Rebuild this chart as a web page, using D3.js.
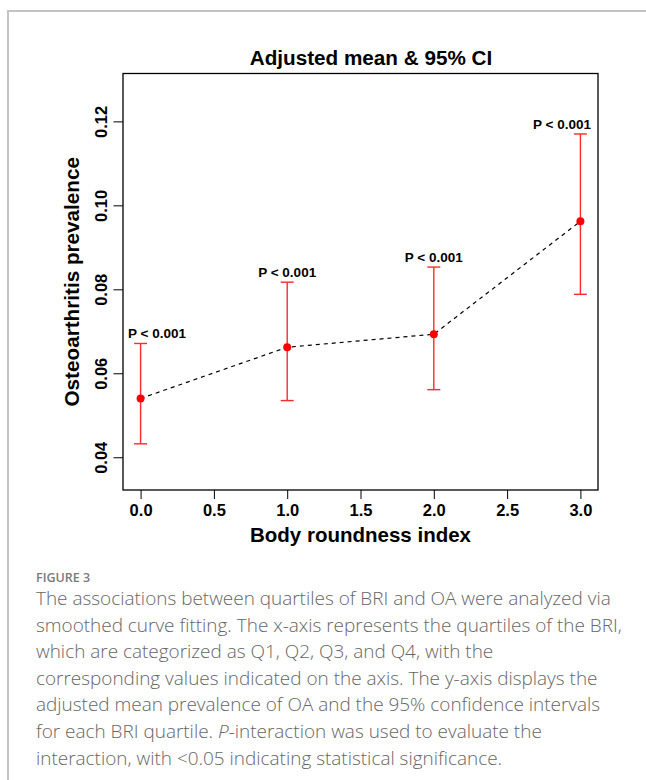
<!DOCTYPE html>
<html>
<head>
<meta charset="utf-8">
<script src="https://cdn.jsdelivr.net/npm/d3@7"></script>
<style>
  body { margin: 0; background: #fff; }
  svg { display: block; }
</style>
</head>
<body>
<script>
// BRI quartiles, adjusted mean OA prevalence and 95% CI
const quartiles = [0, 1, 2, 3]
const meanPrev = [0.0540, 0.0662, 0.0693, 0.0962]
const lowerCI = [0.0432, 0.0535, 0.0561, 0.0788]
const upperCI = [0.0671, 0.0817, 0.0853, 0.1170]
const pLabels = ["P < 0.001", "P < 0.001", "P < 0.001", "P < 0.001"]

const xTicks = [0, 0.5, 1, 1.5, 2, 2.5, 3]
const yTicks = [0.04, 0.06, 0.08, 0.10, 0.12]

const captionHead = "FIGURE 3"
const captionLines = [
  ["The associations between quartiles of BRI and OA were analyzed via"],
  ["smoothed curve fitting. The x-axis represents the quartiles of the BRI,"],
  ["which are categorized as Q1, Q2, Q3, and Q4, with the"],
  ["corresponding values indicated on the axis. The y-axis displays the"],
  ["adjusted mean prevalence of OA and the 95% confidence intervals"],
  ["for each BRI quartile. ", "P", "-interaction was used to evaluate the"],
  ["interaction, with <0.05 indicating statistical significance."]
]

const W = 646, H = 780
const box = { left: 123, right: 598, top: 73.5, bottom: 490 }
const font = "'Liberation Sans', Arial, Helvetica, sans-serif"

const svg = d3.select("body").append("svg")
  .attr("width", W)
  .attr("height", H)

// page frame
svg.append("path")
  .attr("d", `M${W},11H8V${H}`)
  .attr("fill", "none")
  .attr("stroke", "#c4c4c4")
  .attr("stroke-width", 2)

const x = d3.scaleLinear().domain([-0.12, 3.12]).range([box.left, box.right])
const y = d3.scaleLinear().domain([0.0322, 0.1314]).range([box.bottom, box.top])

const data = quartiles.map((q, i) => ({
  q: q, m: meanPrev[i], lo: lowerCI[i], hi: upperCI[i], label: pLabels[i]
}))

// axes
const xAxis = svg.append("g")
  .attr("transform", `translate(0,${box.bottom})`)
  .call(d3.axisBottom(x).tickValues(xTicks).tickFormat(d3.format(".1f")).tickSize(9))
xAxis.select(".domain").remove()
xAxis.selectAll("line").attr("stroke", "#000").attr("stroke-width", 1)
xAxis.selectAll("text")
  .attr("y", 26).attr("dy", 0)
  .attr("fill", "#000")
  .style("font", `bold 16.5px ${font}`)

const yAxis = svg.append("g")
  .attr("transform", `translate(${box.left},0)`)
  .call(d3.axisLeft(y).tickValues(yTicks).tickFormat(d3.format(".2f")).tickSize(9.5))
yAxis.select(".domain").remove()
yAxis.selectAll("line").attr("stroke", "#000").attr("stroke-width", 1)
yAxis.selectAll("text")
  .attr("x", 0).attr("dy", 0)
  .attr("transform", "translate(-16,0) rotate(-90)")
  .attr("text-anchor", "middle")
  .attr("fill", "#000")
  .style("font", `bold 16.5px ${font}`)

// plot box
svg.append("rect")
  .attr("x", box.left)
  .attr("y", box.top)
  .attr("width", box.right - box.left)
  .attr("height", box.bottom - box.top)
  .attr("fill", "none")
  .attr("stroke", "#000")
  .attr("stroke-width", 1.3)

// dashed connecting line
const line = d3.line().x(d => x(d.q)).y(d => y(d.m))
svg.append("path")
  .attr("d", line(data))
  .attr("fill", "none")
  .attr("stroke", "#000")
  .attr("stroke-width", 1.2)
  .attr("stroke-dasharray", "4,4")

// error bars
const bars = svg.append("g")
  .attr("stroke", "#ff2a2a")
  .attr("stroke-width", 1.4)
const capHalf = 6.5
data.forEach(d => {
  const cx = x(d.q)
  bars.append("line").attr("x1", cx).attr("x2", cx).attr("y1", y(d.lo)).attr("y2", y(d.hi))
  bars.append("line").attr("x1", cx - capHalf).attr("x2", cx + capHalf).attr("y1", y(d.lo)).attr("y2", y(d.lo))
  bars.append("line").attr("x1", cx - capHalf).attr("x2", cx + capHalf).attr("y1", y(d.hi)).attr("y2", y(d.hi))
})

svg.append("g").selectAll("circle")
  .data(data)
  .join("circle")
  .attr("cx", d => x(d.q))
  .attr("cy", d => y(d.m))
  .attr("r", 4)
  .attr("fill", "#ff0000")

// P labels above the upper CI, kept inside the box
const labels = svg.append("g").selectAll("text")
  .data(data)
  .join("text")
  .attr("y", d => y(d.hi) - 5)
  .attr("text-anchor", "middle")
  .attr("fill", "#000")
  .style("font", `bold 13.5px ${font}`)
  .text(d => d.label)
labels.each(function(d) {
  const w = this.getComputedTextLength()
  let cx = x(d.q)
  cx = Math.max(cx, box.left + 5 + w / 2)
  cx = Math.min(cx, box.right - 7 - w / 2)
  d3.select(this).attr("x", cx)
})

// titles
svg.append("text")
  .attr("x", 371).attr("y", 64.5)
  .attr("text-anchor", "middle")
  .style("font", `bold 20.7px ${font}`)
  .text("Adjusted mean & 95% CI")

svg.append("text")
  .attr("x", (box.left + box.right) / 2).attr("y", 542)
  .attr("text-anchor", "middle")
  .style("font", `bold 20.5px ${font}`)
  .text("Body roundness index")

svg.append("text")
  .attr("transform", `translate(78.5,${(box.top + box.bottom) / 2}) rotate(-90)`)
  .attr("text-anchor", "middle")
  .style("font", `bold 20.7px ${font}`)
  .text("Osteoarthritis prevalence")

// caption
const capFont = "'Open Sans', Lato, 'Noto Sans', sans-serif"
svg.append("text")
  .attr("x", 36).attr("y", 582)
  .attr("fill", "#7a7a7a")
  .style("font-family", capFont)
  .style("font-weight", 600)
  .style("font-size", "12.5px")
  .text(captionHead)

const capG = svg.append("g")
  .attr("fill", "#666")
  .style("font-family", capFont)
  .style("font-weight", 300)
  .style("font-size", "16px")
const capTexts = capG.selectAll("text")
  .data(captionLines)
  .join("text")
  .attr("x", 36)
  .attr("y", (d, i) => 605 + i * 26.6)
capTexts.selectAll("tspan")
  .data(d => d)
  .join("tspan")
  .style("font-style", (d, i, n) => n.length > 1 && i === 1 ? "italic" : null)
  .text(d => d)

// fit first line to its width in the figure
const w0 = capTexts.node().getComputedTextLength()
capG.style("font-size", (16 * 575 / w0) + "px")
</script>
</body>
</html>
